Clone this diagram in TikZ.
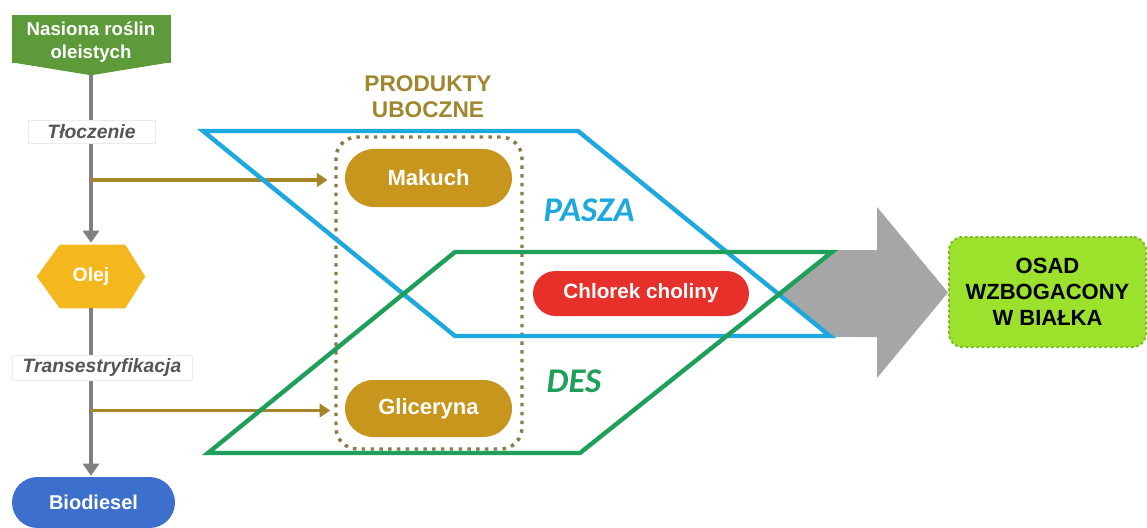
\documentclass[tikz,border=0pt]{standalone}
\usepackage{fontspec}
\setmainfont{Liberation Sans}
\newfontfamily\calib{Carlito}
\usetikzlibrary{shapes.misc,arrows.meta,calc}
\definecolor{seedgreen}{RGB}{92,154,58}
\definecolor{trunkgray}{RGB}{128,128,128}
\definecolor{labelgray}{RGB}{85,85,85}
\definecolor{branchc}{RGB}{164,134,40}
\definecolor{dotc}{RGB}{140,124,70}
\definecolor{prodc}{RGB}{160,135,45}
\definecolor{goldc}{RGB}{200,150,28}
\definecolor{redc}{RGB}{232,48,42}
\definecolor{bluel}{RGB}{30,168,224}
\definecolor{greenl}{RGB}{30,160,90}
\definecolor{arrowgray}{RGB}{166,166,166}
\definecolor{limec}{RGB}{156,226,44}
\definecolor{limeb}{RGB}{118,190,30}
\definecolor{bioblue}{RGB}{61,112,204}
\definecolor{olejc}{RGB}{245,183,30}
\begin{document}
\begin{tikzpicture}[x=0.75pt,y=-0.75pt,
  pill/.style={rounded rectangle, inner sep=0pt, text=white,
    font=\bfseries\fontsize{16.5}{19}\selectfont},
  lbl/.style={fill=white, draw=black!8, inner sep=0pt, text=labelgray,
    font=\bfseries\itshape\fontsize{14.5}{17}\selectfont},
  trunk/.style={draw=trunkgray, line width=3.6pt, -{Triangle[width=12pt,length=9pt]}},
  branch/.style={draw=branchc, line width=2.8pt, -{Triangle[width=10pt,length=8pt]}},
  para/.style={line width=3.3pt, line join=miter}]
\useasboundingbox (0,0) rectangle (1147,528);

% big gray arrow (behind)
\fill[arrowgray] (740,250) -- (877,250) -- (877,207) -- (948,292.5) -- (877,378)
  -- (877,337) -- (740,337) -- cycle;
% white interiors of the two parallelograms
\fill[white] (203,131) -- (578,131) -- (830,336) -- (455,336) -- cycle;
\fill[white] (455,252) -- (832,252) -- (580,453) -- (208,453) -- cycle;

% source node
\node[fill=seedgreen, minimum width=159*0.75pt, minimum height=48*0.75pt, inner sep=0pt]
  (seed) at (91,39) {};
\fill[seedgreen] ($(seed.south west)+(0,-1)$) -- ($(seed.south east)+(0,-1)$)
  -- ($(seed.south)+(0,12)$) -- cycle;
\node[text=white, align=center, font=\bfseries\fontsize{14}{17}\selectfont]
  (seedtxt) at ($(seed.center)+(0,3)$) {Nasiona roślin\\oleistych};
\coordinate (seedtip) at ($(seed.south)+(0,12)$);

% Olej hexagon
\node[minimum width=108*0.75pt, minimum height=63*0.75pt, inner sep=0pt] (olej) at (91,276.5) {};
\fill[olejc] (olej.west) -- ($(olej.north west)+(23,0)$) -- ($(olej.north east)+(-20,0)$)
  -- (olej.east) -- ($(olej.south east)+(-20,0)$) -- ($(olej.south west)+(23,0)$) -- cycle;
\node[text=white, font=\bfseries\fontsize{14.5}{17}\selectfont] (olejtxt) at (olej.center) {Olej};

% Biodiesel
\node[pill, fill=bioblue, minimum width=163*0.75pt, minimum height=51*0.75pt,
  font=\bfseries\fontsize{15}{18}\selectfont] (bio) at (93.5,502.5) {Biodiesel};

% trunk
\draw[trunk] (seedtip) -- ($(seedtip |- olej.north)+(0,-2)$);
\draw[trunk] (seedtip |- olej.south) -- ($(seedtip |- bio.north)+(0,-1)$);
\node[lbl, minimum width=127*0.75pt, minimum height=23*0.75pt] (tl) at (91.5,131.5) {Tłoczenie};
\node[lbl, minimum width=180*0.75pt, minimum height=25*0.75pt] (tr) at (102,367.5) {Transestryfikacja};

% by-products box
\node[draw=dotc, line width=2.6pt, dash pattern=on 2.6pt off 4pt, rounded corners=16pt,
  minimum width=186*0.75pt, minimum height=312*0.75pt] (byprod) at (429,293) {};
\node[text=prodc, align=center, font=\bfseries\fontsize{17}{19.5}\selectfont]
  (prodlbl) at (428,97) {PRODUKTY\\UBOCZNE};

% branch arrows
\coordinate (b1) at (91,180);
\coordinate (b2) at (91,410.5);
\draw[branch, shorten >=5pt] (b1) -- (b1 -| byprod.west);
\draw[branch, shorten >=3pt] (b2) -- (b2 -| byprod.west);

% parallelogram outlines
\draw[para, bluel] (203,131) -- (578,131) -- (830,336) -- (455,336) -- cycle;
\draw[para, greenl] (455,252) -- (832,252) -- (580,453) -- (208,453) -- cycle;

% pills
\node[pill, fill=goldc, minimum width=167*0.75pt, minimum height=58*0.75pt] (makuch) at (428.5,178) {Makuch};
\node[pill, fill=goldc, minimum width=167*0.75pt, minimum height=57*0.75pt] (glic) at (428.5,408.5) {Gliceryna};
\node[pill, fill=redc, minimum width=216*0.75pt, minimum height=45*0.75pt,
  font=\bfseries\fontsize{15.5}{18}\selectfont] (chol) at (641,293.5) {Chlorek choliny};

% labels
\node[text=bluel, font=\calib\bfseries\itshape\fontsize{26}{30}\selectfont] (pasza) at (589,210) {PASZA};
\node[text=greenl, font=\calib\bfseries\itshape\fontsize{26}{30}\selectfont] (des) at (574,381) {DES};

% result
\node[fill=limec, draw=limeb, line width=1.5pt, dash pattern=on 2pt off 2pt, rounded corners=10pt,
  minimum width=197*0.75pt, minimum height=110*0.75pt, align=center,
  font=\bfseries\fontsize{16.5}{19.5}\selectfont] (osad) at (1047.5,292) {OSAD\\WZBOGACONY\\W BIAŁKA};
\end{tikzpicture}
\end{document}
